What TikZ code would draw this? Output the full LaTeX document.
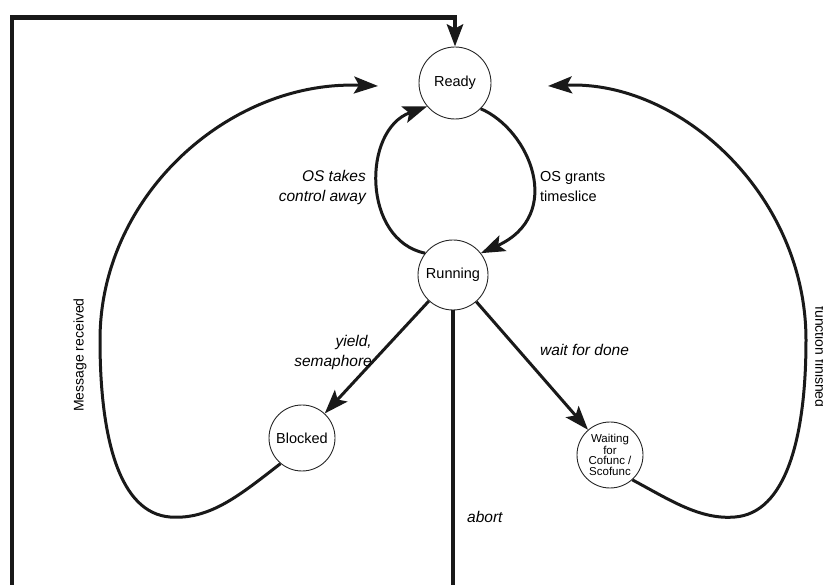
\documentclass[tikz,border=0pt]{standalone}
\usepackage{fontspec}
\setmainfont{Liberation Sans}
\usetikzlibrary{arrows.meta}
\begin{document}
\begin{tikzpicture}[x=1pt,y=-1pt,
  state/.style={circle,draw=black!85,line width=0.9pt,inner sep=0pt,font=\fontsize{14.5}{16}\selectfont},
  conn/.style={line width=3pt,draw=black!90},
  tip/.style={-{Stealth[length=24pt,width=17pt,inset=5pt]}},
  lab/.style={font=\fontsize{15.5}{20}\selectfont\itshape,inner sep=0pt},
  ulab/.style={font=\fontsize{14.5}{20}\selectfont,inner sep=0pt}]
\useasboundingbox (0,0) rectangle (823,585);
\node[state,minimum size=72pt] (ready) at (455,83) {Ready};
\node[state,minimum size=70pt] (run) at (453,275) {Running};
\node[state,minimum size=66pt] (blk) at (302,438) {Blocked};
\node[state,minimum size=66pt,align=center,font=\fontsize{11.5}{10.5}\selectfont] (wait) at (610,455) {Waiting\\for\\Cofunc /\\Scofunc};
\coordinate (mr) at (378,86);
\coordinate (fr) at (548,86);
\coordinate (bl) at (12,600);
\coordinate (tl) at (12,17.5);
% frame / abort
\draw[conn,line width=4.5pt,-{Stealth[length=22pt,width=16pt,inset=4pt]}] (run.south) |- (bl) -- (tl) -| (ready.north);
% ready <-> running
\draw[conn,tip] (ready.-45) .. controls (530,130) and (565,215) .. (run.38);
\draw[conn,tip] (run.142) .. controls (362,240) and (362,130) .. (ready.-140);
% running -> blocked / waiting
\draw[conn,tip] (run) -- (blk);
\draw[conn,tip] (run) -- (wait);
% message received
\draw[conn,tip] (blk.-130) .. controls (240,495) and (210,520) .. (170,517)
  .. controls (120,513) and (100,440) .. (100,340)
  .. controls (100,195) and (230,80) .. (mr);
% function finished
\draw[conn,tip] (wait.-48) .. controls (670,500) and (700,520) .. (735,517)
  .. controls (785,513) and (806,440) .. (806,340)
  .. controls (806,195) and (680,80) .. (fr);
% labels
\node[lab,align=right,anchor=east] (l1) at (366,187) {OS takes\\control away};
\node[ulab,align=left,anchor=west] (l2) at (540,187) {OS grants\\timeslice};
\node[lab,align=right,anchor=east] (l3) at (372,352) {yield,\\semaphore};
\node[lab,anchor=west] (l4) at (540,350) {wait for done};
\node[lab,anchor=west] (l5) at (467,517) {abort};
\node[ulab,font=\fontsize{14}{16}\selectfont,rotate=90] (l6) at (80,355) {Message received};
\node[ulab,font=\fontsize{14}{16}\selectfont,rotate=-90,anchor=south] (l7) at (815,357) {function finished};
\end{tikzpicture}
\end{document}
